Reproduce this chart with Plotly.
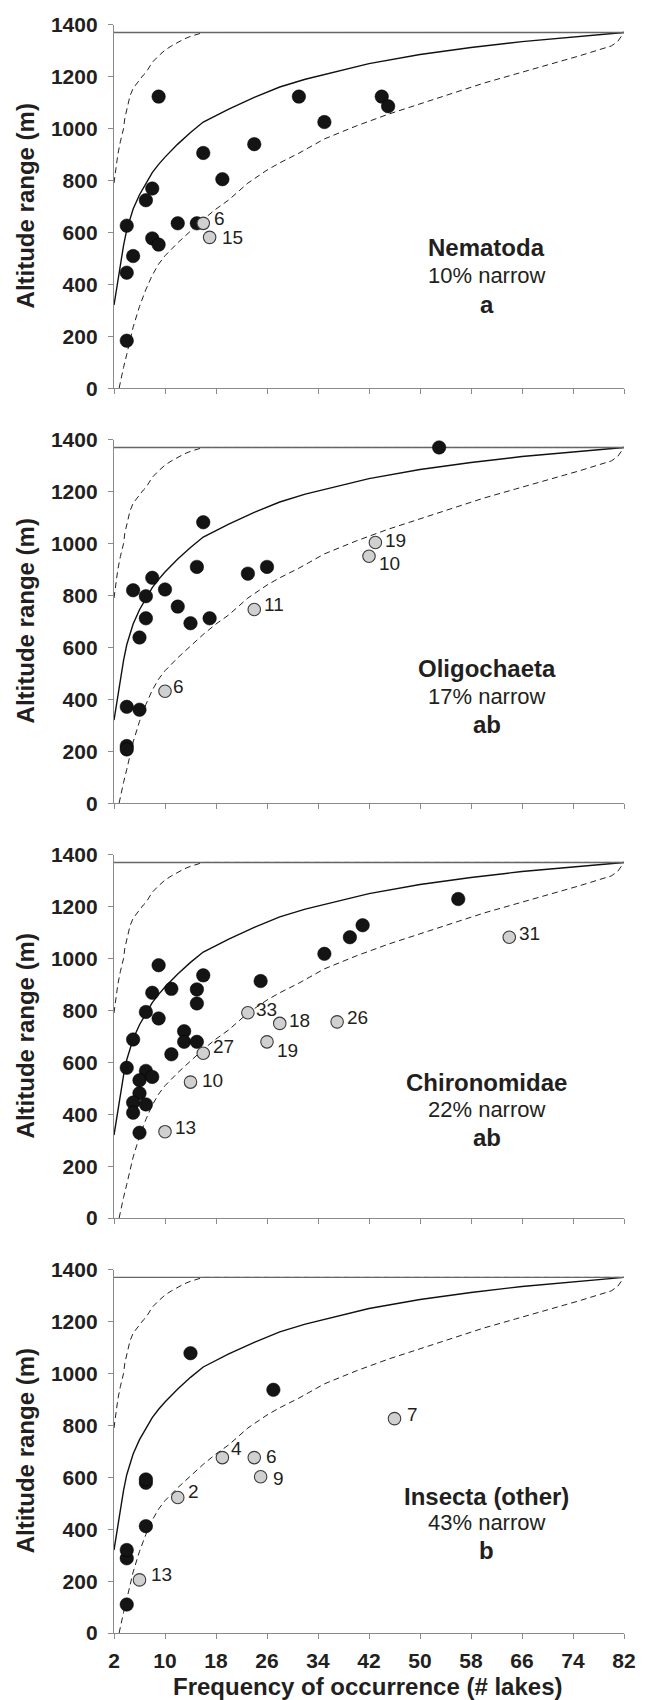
import plotly.graph_objects as go

# ---------------- data ----------------
MAX_RANGE = 1370
x_ticks = [2, 10, 18, 26, 34, 42, 50, 58, 66, 74, 82]
y_ticks = [0, 200, 400, 600, 800, 1000, 1200, 1400]

# null-model curves
mean_x = [2, 2.5, 3, 3.5, 4, 5, 6, 7, 8, 9, 10, 12, 14, 16, 18, 20, 24, 28, 32, 36, 42, 50, 58, 66, 74, 82]
mean_y = [320, 400, 480, 550, 610, 690, 745, 790, 830, 862, 890, 940, 985, 1025, 1050, 1075, 1120, 1160,
          1190, 1215, 1250, 1285, 1312, 1335, 1353, 1370]
upper_x = [2, 2.3, 2.6, 3, 3.5, 3.7, 4, 4.5, 5, 6, 6.6, 7, 8, 9, 10, 11, 12, 13, 14, 15, 16, 82]
upper_y = [790, 850, 900, 950, 1000, 1040, 1075, 1125, 1155, 1190, 1206, 1215, 1255, 1280, 1302, 1318,
           1332, 1345, 1355, 1364, 1370, 1370]
lower_x = [2.8, 3, 3.5, 4, 5, 6, 7, 8, 9, 10, 12, 14, 16, 18, 20, 23, 26, 28, 31, 35, 40, 45, 50, 55,
           60, 65, 70, 75, 80, 81, 82]
lower_y = [0, 25, 80, 130, 235, 315, 380, 435, 478, 510, 560, 605, 650, 690, 725, 790, 840, 868, 905,
           960, 1010, 1055, 1095, 1135, 1175, 1210, 1245, 1280, 1318, 1335, 1370]

taxa = ["Nematoda", "Oligochaeta", "Chironomidae", "Insecta (other)"]
narrow_pct = ["10% narrow", "17% narrow", "22% narrow", "43% narrow"]
group_letter = ["a", "ab", "ab", "b"]

nem_black_x = [4, 4, 5, 4, 7, 8, 8, 9, 9, 12, 15, 16, 19, 24, 31, 35, 44, 45]
nem_black_y = [626, 445, 509, 183, 724, 769, 577, 553, 1123, 635, 635, 906, 805, 940, 1123, 1025, 1123, 1086]
nem_gray_x = [16, 17]
nem_gray_y = [635, 581]
nem_gray_lab = ["6", "15"]

oli_black_x = [53, 16, 15, 23, 26, 8, 5, 7, 10, 7, 12, 14, 17, 6, 4, 6, 4, 4]
oli_black_y = [1370, 1082, 910, 884, 910, 868, 820, 797, 823, 712, 757, 693, 712, 638, 371, 360, 220, 207]
oli_gray_x = [10, 24, 42, 43]
oli_gray_y = [431, 746, 951, 1004]
oli_gray_lab = ["6", "11", "10", "19"]

chi_black_x = [56, 41, 39, 35, 25, 16, 15, 15, 13, 13, 15, 11, 11, 9, 8, 7, 9, 5, 4, 7, 6, 8, 6, 5, 7, 5, 6]
chi_black_y = [1229, 1128, 1082, 1018, 913, 935, 881, 827, 720, 679, 679, 631, 883, 974, 868, 794, 769,
               688, 579, 567, 531, 544, 481, 445, 438, 406, 329]
chi_gray_x = [10, 14, 16, 23, 28, 26, 37, 64]
chi_gray_y = [333, 524, 635, 791, 750, 679, 756, 1082]
chi_gray_lab = ["13", "10", "27", "33", "18", "19", "26", "31"]

ins_black_x = [4, 4, 4, 7, 7, 7, 14, 27]
ins_black_y = [110, 288, 320, 412, 579, 592, 1078, 937]
ins_gray_x = [6, 12, 19, 24, 25, 46]
ins_gray_y = [205, 522, 676, 676, 602, 826]
ins_gray_lab = ["13", "2", "4", "6", "9", "7"]

panels = [
    (nem_black_x, nem_black_y, nem_gray_x, nem_gray_y, nem_gray_lab),
    (oli_black_x, oli_black_y, oli_gray_x, oli_gray_y, oli_gray_lab),
    (chi_black_x, chi_black_y, chi_gray_x, chi_gray_y, chi_gray_lab),
    (ins_black_x, ins_black_y, ins_gray_x, ins_gray_y, ins_gray_lab),
]

# ---------------- styling / layout ----------------
W, H = 649, 1700
ML, MR, MT, MB = 114, 25, 20, 66
PW, PH = W - ML - MR, H - MT - MB
FONT = "Liberation Sans, Arial, sans-serif"
TXT = "#231f20"
AXC = "#8a8a8a"

panel_top_px = [20.7, 436.7, 852.7, 1268.7]
panel_h_px = 364.4

# label offsets for gray points (px: dx right, dy up)
label_offsets = [
    [(9, 5), (10, 0)],
    [(6, 5), (8, 5), (8, -7), (8, 2)],
    [(8, 4), (9, 2), (8, 7), (6, 3), (7, 3), (8, -9), (8, 4), (8, 4)],
    [(9, 5), (8, 6), (7, 9), (10, 1), (10, -2), (10, 4)],
]
text_y = [(542, 433, 324), (517, 410, 304), (521, 419, 311), (528, 425, 320)]
TEXT_X = 60.5


def py_to_paper(py):
    return 1 - (py - MT) / PH


def px_to_paper(px):
    return (px - ML) / PW


fig = go.Figure()
annotations = []

for i, (bx, by, gx, gy, glab) in enumerate(panels):
    k = "" if i == 0 else str(i + 1)
    xa, ya = "x" + k, "y" + k
    # curves
    fig.add_trace(go.Scatter(x=upper_x, y=upper_y, mode="lines", xaxis=xa, yaxis=ya,
                             line=dict(color="#222", width=1, dash="6px,4px"), hoverinfo="skip"))
    fig.add_trace(go.Scatter(x=lower_x, y=lower_y, mode="lines", xaxis=xa, yaxis=ya,
                             line=dict(color="#222", width=1, dash="6px,4px"), hoverinfo="skip"))
    fig.add_trace(go.Scatter(x=mean_x, y=mean_y, mode="lines", xaxis=xa, yaxis=ya,
                             line=dict(color="#111", width=1.4), hoverinfo="skip"))
    fig.add_trace(go.Scatter(x=[x_ticks[0], x_ticks[-1]], y=[MAX_RANGE, MAX_RANGE], mode="lines",
                             xaxis=xa, yaxis=ya, line=dict(color="#666", width=1.4), hoverinfo="skip"))
    # points
    fig.add_trace(go.Scatter(x=bx, y=by, mode="markers", xaxis=xa, yaxis=ya,
                             marker=dict(size=13.5, color="#141414", line=dict(color="#000", width=0.5))))
    fig.add_trace(go.Scatter(x=gx, y=gy, mode="markers", xaxis=xa, yaxis=ya,
                             marker=dict(size=12.5, color="#d0d0d0", line=dict(color="#3a3a3a", width=1.1))))
    for j, lab in enumerate(glab):
        dx, dy = label_offsets[i][j]
        annotations.append(dict(x=gx[j], y=gy[j], xref=xa, yref=ya, text=lab, showarrow=False,
                                xanchor="left", yanchor="middle", xshift=dx, yshift=dy,
                                font=dict(family=FONT, size=19, color=TXT)))
    ty = text_y[i]
    annotations.append(dict(x=TEXT_X, y=ty[0], xref=xa, yref=ya, text="<b>%s</b>" % taxa[i],
                            showarrow=False, font=dict(family=FONT, size=24, color=TXT)))
    annotations.append(dict(x=TEXT_X, y=ty[1], xref=xa, yref=ya, text=narrow_pct[i],
                            showarrow=False, font=dict(family=FONT, size=22, color=TXT)))
    annotations.append(dict(x=TEXT_X, y=ty[2], xref=xa, yref=ya, text="<b>%s</b>" % group_letter[i],
                            showarrow=False, font=dict(family=FONT, size=24, color=TXT)))
    # y title
    top = panel_top_px[i]
    annotations.append(dict(x=px_to_paper(25), y=py_to_paper(top + panel_h_px / 2), xref="paper",
                            yref="paper", text="<b>Altitude range (m)</b>", textangle=-90,
                            showarrow=False, xanchor="center", yanchor="middle",
                            font=dict(family=FONT, size=24, color=TXT)))

    dom = [py_to_paper(top + panel_h_px), py_to_paper(top)]
    fig.update_layout(**{
        "xaxis" + k: dict(range=[x_ticks[0], x_ticks[-1]], tickvals=x_ticks, ticks="outside", ticklen=5,
                          tickwidth=1.3, tickcolor=AXC, showline=True, linecolor=AXC, linewidth=1.3,
                          showgrid=False, zeroline=False, anchor=ya, showticklabels=(i == 3),
                          ticklabelstandoff=4,
                          tickfont=dict(family=FONT, size=21, color=TXT, weight="bold")),
        "yaxis" + k: dict(range=[y_ticks[0], y_ticks[-1]], tickvals=y_ticks, ticks="outside", ticklen=5,
                          tickwidth=1.3, tickcolor=AXC, showline=True, linecolor=AXC, linewidth=1.3,
                          showgrid=False, zeroline=False, anchor=xa, domain=dom,
                          ticklabelstandoff=6,
                          tickfont=dict(family=FONT, size=21, color=TXT, weight="bold")),
    })

annotations.append(dict(x=px_to_paper(367), y=py_to_paper(1687), xref="paper", yref="paper",
                        text="<b>Frequency of occurrence (# lakes)</b>", showarrow=False,
                        xanchor="center", yanchor="middle", font=dict(family=FONT, size=24, color=TXT)))

fig.update_layout(width=W, height=H, margin=dict(l=ML, r=MR, t=MT, b=MB, pad=0),
                  paper_bgcolor="white", plot_bgcolor="white", showlegend=False,
                  annotations=annotations)

# remove the browser's default page margin so figure pixels match the page
fig.write_html("out.html", config={"displayModeBar": False},
               post_script="document.body.style.margin='0px';")
